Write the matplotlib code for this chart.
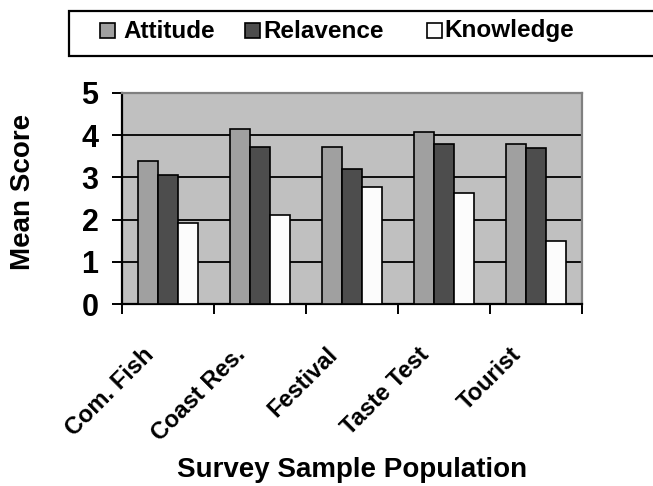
import matplotlib
matplotlib.use("Agg")
import matplotlib.pyplot as plt
import matplotlib.patches as mpatches
import matplotlib.transforms as mtransforms
import numpy as np

plt.rcParams['font.family'] = ['Liberation Sans', 'DejaVu Sans']
plt.rcParams['font.weight'] = 'bold'

categories = ["Com. Fish", "Coast Res.", "Festival", "Taste Test", "Tourist"]
series_names = ["Attitude", "Relavence", "Knowledge"]
attitude = [3.40, 4.15, 3.73, 4.07, 3.78]
relavence = [3.06, 3.73, 3.21, 3.78, 3.69]
knowledge = [1.93, 2.12, 2.78, 2.64, 1.50]
series_values = [attitude, relavence, knowledge]
series_colors = ["#a0a0a0", "#4d4d4d", "#fcfcfc"]
y_ticks = [0, 1, 2, 3, 4, 5]

W, H = 653, 486
fig = plt.figure(figsize=(W / 100, H / 100), dpi=100)
ax = fig.add_axes([122 / W, 1 - 304 / H, (582 - 122) / W, (304 - 93) / H])
ax.set_facecolor("#c0c0c0")

x = np.arange(len(categories))
bw = 0.217
for i, (vals, col) in enumerate(zip(series_values, series_colors)):
    ax.bar(x + (i - 1) * bw, vals, width=bw, color=col, edgecolor="black",
           linewidth=1.2, zorder=3)

ax.set_xlim(-0.5, len(categories) - 0.5)
ax.set_ylim(0, 5)
ax.set_yticks(y_ticks)
ax.set_yticklabels([str(t) for t in y_ticks], fontsize=22, fontweight="bold")
for t in y_ticks[1:-1]:
    ax.axhline(t, color="black", linewidth=1.3, zorder=1)

ax.set_xticks(np.arange(-0.5, len(categories) + 0.5, 1.0))
ax.set_xticklabels([])
ax.tick_params(axis="x", direction="out", length=7, width=1.4, color="black")
ax.tick_params(axis="y", direction="out", length=7, width=1.4, color="black", pad=10)

for s in ["left", "bottom"]:
    ax.spines[s].set_color("black")
    ax.spines[s].set_linewidth(1.6)
for s in ["top", "right"]:
    ax.spines[s].set_color("#808080")
    ax.spines[s].set_linewidth(1.6)

# rotated category labels
for xi, lab in zip(x, categories):
    trans = ax.get_xaxis_transform() + mtransforms.ScaledTranslation(-18 / 100, -47 / 100, fig.dpi_scale_trans)
    ax.text(xi, 0, lab, transform=trans, rotation=45, rotation_mode="anchor",
            ha="right", va="center", fontsize=17, fontweight="bold")

fig.text(23 / W, 1 - 192 / H, "Mean Score", rotation=90, ha="center", va="center",
         fontsize=20, fontweight="bold")
fig.text(352 / W, 1 - 470 / H, "Survey Sample Population", ha="center", va="center",
         fontsize=20, fontweight="bold")

# legend box
box = mpatches.Rectangle((69 / W, 1 - 56 / H), (700 - 69) / W, 45 / H,
                         transform=fig.transFigure, facecolor="white",
                         edgecolor="black", linewidth=1.6, clip_on=False)
fig.patches.append(box)
sq_x = [100, 245, 427]
txt_x = [123, 263, 444]
for name, col, sx, tx in zip(series_names, series_colors, sq_x, txt_x):
    sq = mpatches.Rectangle((sx / W, 1 - 38 / H), 15 / W, 15 / H,
                            transform=fig.transFigure, facecolor=col,
                            edgecolor="black", linewidth=1.2)
    fig.patches.append(sq)
    fig.text(tx / W, 1 - 31 / H, name, ha="left", va="center",
             fontsize=17.5, fontweight="bold")

fig.savefig("out.png", dpi=100)
